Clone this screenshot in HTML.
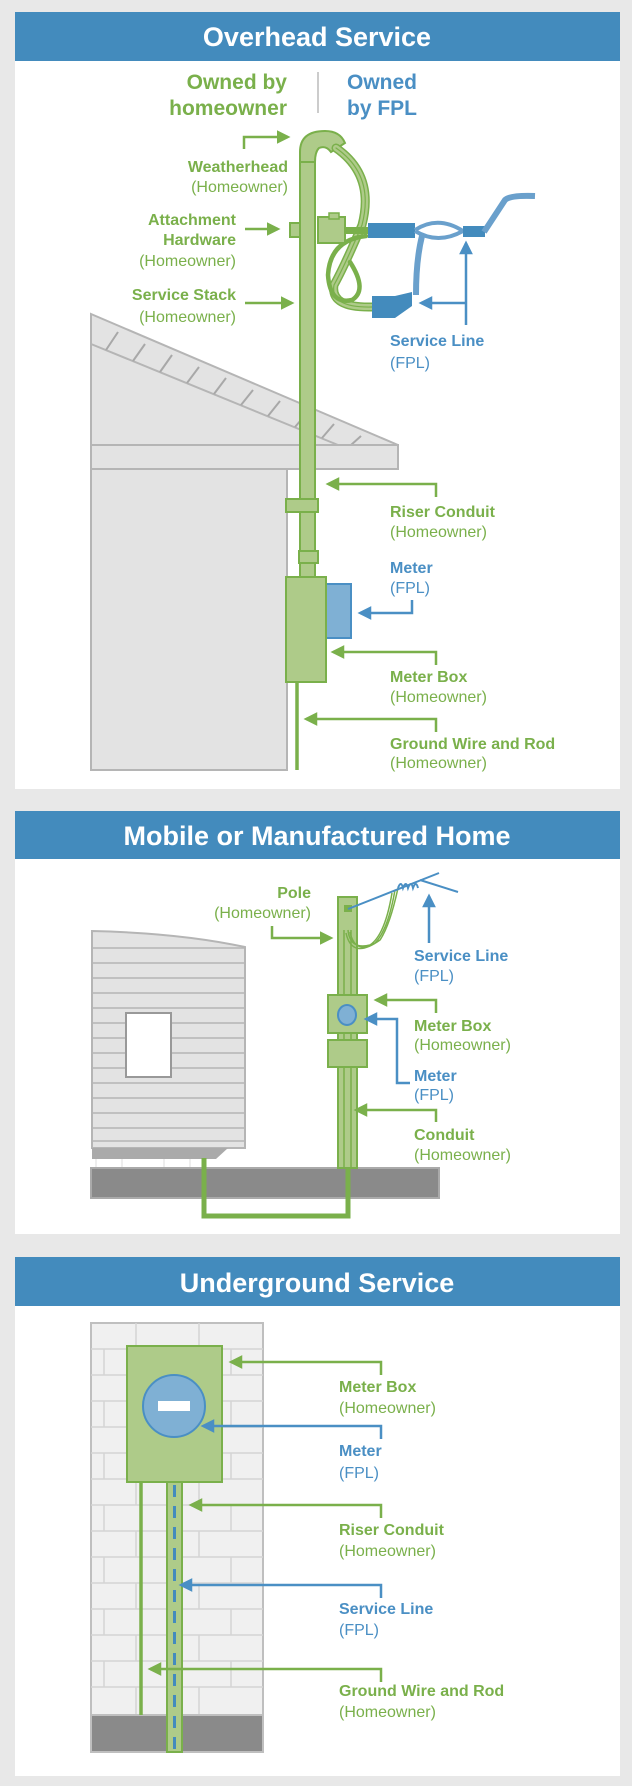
<!DOCTYPE html>
<html><head><meta charset="utf-8"><style>
html,body{margin:0;padding:0;background:#e8e8e8;}
svg{display:block;}
text{font-family:"Liberation Sans",Arial,sans-serif;}
.t{font-size:27px;font-weight:bold;fill:#fff;}
.gb{font-size:16px;font-weight:bold;fill:#7ab04b;}
.gr{font-size:16px;fill:#7ab04b;}
.bb{font-size:16px;font-weight:bold;fill:#4a8fc4;}
.br{font-size:16px;fill:#4a8fc4;}
.ga{stroke:#7ab04b;stroke-width:2.5;fill:none;}
.ba{stroke:#4a8fc4;stroke-width:2.5;fill:none;}
</style></head><body>
<svg width="632" height="1786" viewBox="0 0 632 1786" xmlns="http://www.w3.org/2000/svg">
<defs>
<marker id="mg" markerWidth="5.5" markerHeight="5.5" refX="4.5" refY="2.75" orient="auto" markerUnits="strokeWidth"><path d="M0,0 L5.5,2.75 L0,5.5 Z" fill="#7ab04b"/></marker>
<marker id="mb" markerWidth="5.5" markerHeight="5.5" refX="4.5" refY="2.75" orient="auto" markerUnits="strokeWidth"><path d="M0,0 L5.5,2.75 L0,5.5 Z" fill="#4a8fc4"/></marker>
</defs>
<rect width="632" height="1786" fill="#e8e8e8"/>

<!-- ===== Panel 1 ===== -->
<rect x="15" y="12" width="605" height="777" fill="#fff"/>
<rect x="15" y="12" width="605" height="49" fill="#438bbd"/>
<text class="t" x="317" y="46" text-anchor="middle">Overhead Service</text>
<text x="287" y="89" text-anchor="end" style="font-size:21px;font-weight:bold;fill:#7ab04b">Owned by</text>
<text x="287" y="115" text-anchor="end" style="font-size:21px;font-weight:bold;fill:#7ab04b">homeowner</text>
<line x1="318" y1="72" x2="318" y2="113" stroke="#bbb" stroke-width="1.5"/>
<text x="347" y="89" style="font-size:21px;font-weight:bold;fill:#4a8fc4">Owned</text>
<text x="347" y="115" style="font-size:21px;font-weight:bold;fill:#4a8fc4">by FPL</text>

<!-- roof -->
<polygon points="91,314 398,445 398,469 91,469" fill="#e3e3e3" stroke="#b5b5b5" stroke-width="2"/>
<line x1="91" y1="344" x2="338" y2="445" stroke="#b5b5b5" stroke-width="2"/>
<g stroke="#a8a8a8" stroke-width="2">
<line x1="118" y1="332" x2="106" y2="350"/><line x1="145" y1="344" x2="133" y2="361"/><line x1="172" y1="355" x2="160" y2="372"/>
<line x1="199" y1="367" x2="187" y2="383"/><line x1="226" y1="378" x2="214" y2="394"/><line x1="253" y1="390" x2="241" y2="405"/>
<line x1="280" y1="401" x2="268" y2="416"/><line x1="307" y1="413" x2="295" y2="427"/><line x1="334" y1="424" x2="322" y2="438"/>
<line x1="361" y1="436" x2="351" y2="445"/>
</g>
<rect x="91" y="445" width="307" height="24" fill="#e3e3e3" stroke="#b5b5b5" stroke-width="2"/>
<rect x="91" y="469" width="196" height="301" fill="#e3e3e3" stroke="#b5b5b5" stroke-width="2"/>

<!-- pipe -->
<rect x="300" y="155" width="15" height="422" fill="#aecb89" stroke="#7ab04b" stroke-width="2"/>
<path d="M300,162 L300,152 Q300,131 325,131 Q340,131 345,143 L331,152 Q326,145 319,148 Q315,152 315,162 Z" fill="#aecb89" stroke="#7ab04b" stroke-width="2"/>
<!-- wires -->
<g fill="none" stroke-linecap="round">
<path d="M336,148 Q375,175 362,225 Q345,265 334,285 Q330,308 372,307" stroke="#7ab04b" stroke-width="9"/>
<path d="M336,148 Q375,175 362,225 Q345,265 334,285 Q330,308 372,307" stroke="#aecb89" stroke-width="6"/>
<path d="M336,148 Q375,175 362,225 Q345,265 334,285 Q330,308 372,307" stroke="#7ab04b" stroke-width="1.2"/>
<path d="M366,236 Q330,240 328,275 Q330,305 352,300 Q368,290 350,262" stroke="#7ab04b" stroke-width="4.5"/>
</g>
<!-- attachment -->
<rect x="290" y="223" width="10" height="14" fill="#aecb89" stroke="#7ab04b" stroke-width="2"/>
<rect x="318" y="217" width="27" height="26" fill="#aecb89" stroke="#7ab04b" stroke-width="2"/>
<rect x="329" y="213" width="10" height="6" fill="#aecb89" stroke="#7ab04b" stroke-width="1.5"/>
<rect x="345" y="227" width="23" height="7" fill="#7ab04b"/>
<!-- blue service -->
<rect x="368" y="223" width="47" height="15" fill="#438bbd"/>
<path d="M415,230 Q438,215 463,231 M415,231 Q438,245 463,231" stroke="#6aa0cc" stroke-width="4" fill="none"/>
<rect x="463" y="226" width="22" height="11" fill="#438bbd"/>
<path d="M484,232 L505,200 Q510,195 535,196" stroke="#6aa0cc" stroke-width="6" fill="none"/>
<path d="M422,236 Q416,260 416,295" stroke="#6aa0cc" stroke-width="6" fill="none"/>
<polygon points="372,296 395,296 412,292 412,306 395,318 372,318" fill="#438bbd"/>
<!-- couplings / meter -->
<rect x="286" y="499" width="32" height="13" fill="#aecb89" stroke="#7ab04b" stroke-width="2"/>
<rect x="299" y="551" width="19" height="12" fill="#aecb89" stroke="#7ab04b" stroke-width="2"/>
<rect x="326" y="584" width="25" height="54" fill="#7fb0d4" stroke="#4a8fc4" stroke-width="2"/>
<rect x="286" y="577" width="40" height="105" fill="#aecb89" stroke="#7ab04b" stroke-width="2"/>
<line x1="297" y1="682" x2="297" y2="770" stroke="#7ab04b" stroke-width="3.5"/>
<!-- labels left -->
<path class="ga" d="M244,149 L244,137 L288,137" marker-end="url(#mg)"/>
<text class="gb" x="288" y="172" text-anchor="end">Weatherhead</text>
<text class="gr" x="288" y="192" text-anchor="end">(Homeowner)</text>
<text class="gb" x="236" y="225" text-anchor="end">Attachment</text>
<text class="gb" x="236" y="245" text-anchor="end">Hardware</text>
<text class="gr" x="236" y="266" text-anchor="end">(Homeowner)</text>
<path class="ga" d="M245,229 L278,229" marker-end="url(#mg)"/>
<text class="gb" x="236" y="300" text-anchor="end">Service Stack</text>
<text class="gr" x="236" y="322" text-anchor="end">(Homeowner)</text>
<path class="ga" d="M245,303 L292,303" marker-end="url(#mg)"/>
<path class="ba" d="M466,325 L466,243" marker-end="url(#mb)"/>
<path class="ba" d="M466,303 L421,303" marker-end="url(#mb)"/>
<text class="bb" x="390" y="346">Service Line</text>
<text class="br" x="390" y="368">(FPL)</text>
<!-- labels right -->
<path class="ga" d="M436,497 L436,484 L328,484" marker-end="url(#mg)"/>
<text class="gb" x="390" y="517">Riser Conduit</text>
<text class="gr" x="390" y="537">(Homeowner)</text>
<text class="bb" x="390" y="573">Meter</text>
<text class="br" x="390" y="593">(FPL)</text>
<path class="ba" d="M412,600 L412,613 L360,613" marker-end="url(#mb)"/>
<path class="ga" d="M436,665 L436,652 L333,652" marker-end="url(#mg)"/>
<text class="gb" x="390" y="682">Meter Box</text>
<text class="gr" x="390" y="702">(Homeowner)</text>
<path class="ga" d="M436,732 L436,719 L306,719" marker-end="url(#mg)"/>
<text class="gb" x="390" y="749">Ground Wire and Rod</text>
<text class="gr" x="390" y="768">(Homeowner)</text>

<!-- ===== Panel 2 ===== -->
<rect x="15" y="811" width="605" height="423" fill="#fff"/>
<rect x="15" y="811" width="605" height="48" fill="#438bbd"/>
<text class="t" x="317" y="845" text-anchor="middle">Mobile or Manufactured Home</text>
<!-- home -->
<path d="M92,931 Q180,933 245,947 L245,1148 L92,1148 Z" fill="#e3e3e3" stroke="#b5b5b5" stroke-width="2"/>
<g stroke="#b5b5b5" stroke-width="1.5">
<line x1="92" y1="948" x2="245" y2="948"/><line x1="92" y1="963" x2="245" y2="963"/><line x1="92" y1="978" x2="245" y2="978"/>
<line x1="92" y1="993" x2="245" y2="993"/><line x1="92" y1="1008" x2="245" y2="1008"/><line x1="92" y1="1023" x2="245" y2="1023"/>
<line x1="92" y1="1038" x2="245" y2="1038"/><line x1="92" y1="1053" x2="245" y2="1053"/><line x1="92" y1="1068" x2="245" y2="1068"/>
<line x1="92" y1="1083" x2="245" y2="1083"/><line x1="92" y1="1098" x2="245" y2="1098"/><line x1="92" y1="1113" x2="245" y2="1113"/>
<line x1="92" y1="1128" x2="245" y2="1128"/><line x1="92" y1="1141" x2="245" y2="1141"/>
</g>
<rect x="126" y="1013" width="45" height="64" fill="#fff" stroke="#999" stroke-width="2"/>
<polygon points="92,1148 228,1148 216,1159 92,1159" fill="#aaa"/>
<g stroke="#ddd" stroke-width="1"><line x1="96" y1="1159" x2="96" y2="1168"/><line x1="122" y1="1159" x2="122" y2="1168"/><line x1="164" y1="1159" x2="164" y2="1168"/><line x1="190" y1="1159" x2="190" y2="1168"/></g>
<rect x="91" y="1168" width="348" height="30" fill="#8a8a8a" stroke="#aaa" stroke-width="2"/>
<!-- pole -->
<rect x="338" y="897" width="19" height="271" fill="#aecb89" stroke="#7ab04b" stroke-width="2"/>
<line x1="344" y1="930" x2="344" y2="1168" stroke="#7ab04b" stroke-width="1.5"/>
<line x1="351" y1="930" x2="351" y2="1168" stroke="#7ab04b" stroke-width="1.5"/>
<rect x="344" y="905" width="8" height="7" fill="#7ab04b"/>
<path d="M348,930 Q350,950 370,945 Q385,935 392,893 M350,932 Q355,955 375,943 Q388,930 395,890 M346,933 Q352,960 380,940 Q390,925 398,888" stroke="#7ab04b" stroke-width="1.5" fill="none"/>
<path d="M348,909 L439,873 M420,880 L458,892" stroke="#4a8fc4" stroke-width="2" fill="none"/>
<path d="M398,888 q3,-8 5,0 q3,-8 5,0 q3,-8 5,0 q3,-8 5,0" stroke="#4a8fc4" stroke-width="2" fill="none"/>
<rect x="328" y="995" width="39" height="38" fill="#aecb89" stroke="#7ab04b" stroke-width="2"/>
<ellipse cx="347" cy="1015" rx="9" ry="10" fill="#7fb0d4" stroke="#4a8fc4" stroke-width="2"/>
<rect x="328" y="1040" width="39" height="27" fill="#aecb89" stroke="#7ab04b" stroke-width="2"/>
<path d="M204,1158 L204,1216 L348,1216 L348,1168" stroke="#7ab04b" stroke-width="5" fill="none"/>
<!-- labels -->
<text class="gb" x="311" y="898" text-anchor="end">Pole</text>
<text class="gr" x="311" y="918" text-anchor="end">(Homeowner)</text>
<path class="ga" d="M272,926 L272,938 L331,938" marker-end="url(#mg)"/>
<path class="ba" d="M429,943 L429,896" marker-end="url(#mb)"/>
<text class="bb" x="414" y="961">Service Line</text>
<text class="br" x="414" y="981">(FPL)</text>
<path class="ga" d="M436,1013 L436,1000 L376,1000" marker-end="url(#mg)"/>
<text class="gb" x="414" y="1031">Meter Box</text>
<text class="gr" x="414" y="1050">(Homeowner)</text>
<path class="ba" d="M410,1083 L397,1083 L397,1019 L366,1019" marker-end="url(#mb)"/>
<text class="bb" x="414" y="1081">Meter</text>
<text class="br" x="414" y="1100">(FPL)</text>
<path class="ga" d="M436,1122 L436,1110 L356,1110" marker-end="url(#mg)"/>
<text class="gb" x="414" y="1140">Conduit</text>
<text class="gr" x="414" y="1160">(Homeowner)</text>

<!-- ===== Panel 3 ===== -->
<rect x="15" y="1257" width="605" height="519" fill="#fff"/>
<rect x="15" y="1257" width="605" height="49" fill="#438bbd"/>
<text class="t" x="317" y="1292" text-anchor="middle">Underground Service</text>
<rect x="91" y="1323" width="172" height="429" fill="#f0f0f0" stroke="#bfbfbf" stroke-width="2"/>
<g stroke="#d4d4d4" stroke-width="1.5">
<line x1="91" y1="1349" x2="263" y2="1349"/><line x1="91" y1="1375" x2="263" y2="1375"/><line x1="91" y1="1401" x2="263" y2="1401"/>
<line x1="91" y1="1427" x2="263" y2="1427"/><line x1="91" y1="1453" x2="263" y2="1453"/><line x1="91" y1="1479" x2="263" y2="1479"/>
<line x1="91" y1="1505" x2="263" y2="1505"/><line x1="91" y1="1531" x2="263" y2="1531"/><line x1="91" y1="1557" x2="263" y2="1557"/>
<line x1="91" y1="1583" x2="263" y2="1583"/><line x1="91" y1="1609" x2="263" y2="1609"/><line x1="91" y1="1635" x2="263" y2="1635"/>
<line x1="91" y1="1661" x2="263" y2="1661"/><line x1="91" y1="1687" x2="263" y2="1687"/>
<line x1="136" y1="1323" x2="136" y2="1349"/><line x1="199" y1="1323" x2="199" y2="1349"/>
<line x1="104" y1="1349" x2="104" y2="1375"/><line x1="231" y1="1349" x2="231" y2="1375"/>
<line x1="136" y1="1375" x2="136" y2="1401"/><line x1="199" y1="1375" x2="199" y2="1401"/>
<line x1="104" y1="1401" x2="104" y2="1427"/><line x1="231" y1="1401" x2="231" y2="1427"/>
<line x1="136" y1="1427" x2="136" y2="1453"/><line x1="199" y1="1427" x2="199" y2="1453"/>
<line x1="104" y1="1453" x2="104" y2="1479"/><line x1="231" y1="1453" x2="231" y2="1479"/>
<line x1="136" y1="1479" x2="136" y2="1505"/><line x1="199" y1="1479" x2="199" y2="1505"/>
<line x1="104" y1="1505" x2="104" y2="1531"/><line x1="231" y1="1505" x2="231" y2="1531"/>
<line x1="136" y1="1531" x2="136" y2="1557"/><line x1="199" y1="1531" x2="199" y2="1557"/>
<line x1="104" y1="1557" x2="104" y2="1583"/><line x1="231" y1="1557" x2="231" y2="1583"/>
<line x1="136" y1="1583" x2="136" y2="1609"/><line x1="199" y1="1583" x2="199" y2="1609"/>
<line x1="104" y1="1609" x2="104" y2="1635"/><line x1="231" y1="1609" x2="231" y2="1635"/>
<line x1="136" y1="1635" x2="136" y2="1661"/><line x1="199" y1="1635" x2="199" y2="1661"/>
<line x1="104" y1="1661" x2="104" y2="1687"/><line x1="231" y1="1661" x2="231" y2="1687"/>
<line x1="136" y1="1687" x2="136" y2="1715"/><line x1="199" y1="1687" x2="199" y2="1715"/>
</g>
<rect x="91" y="1715" width="172" height="37" fill="#8a8a8a" stroke="#bfbfbf" stroke-width="2"/>
<rect x="127" y="1346" width="95" height="136" fill="#aecb89" stroke="#7ab04b" stroke-width="2"/>
<ellipse cx="174" cy="1406" rx="31" ry="31" fill="#7fb0d4" stroke="#4a8fc4" stroke-width="2"/>
<rect x="158" y="1401" width="32" height="10" fill="#fff"/>
<rect x="167" y="1482" width="15" height="270" fill="#aecb89" stroke="#7ab04b" stroke-width="2"/>
<line x1="174.5" y1="1485" x2="174.5" y2="1752" stroke="#438bbd" stroke-width="3" stroke-dasharray="12,9"/>
<line x1="141" y1="1482" x2="141" y2="1715" stroke="#7ab04b" stroke-width="3.5"/>
<!-- labels -->
<path class="ga" d="M381,1375 L381,1362 L231,1362" marker-end="url(#mg)"/>
<text class="gb" x="339" y="1392">Meter Box</text>
<text class="gr" x="339" y="1413">(Homeowner)</text>
<path class="ba" d="M381,1439 L381,1426 L203,1426" marker-end="url(#mb)"/>
<text class="bb" x="339" y="1456">Meter</text>
<text class="br" x="339" y="1478">(FPL)</text>
<path class="ga" d="M381,1518 L381,1505 L191,1505" marker-end="url(#mg)"/>
<text class="gb" x="339" y="1535">Riser Conduit</text>
<text class="gr" x="339" y="1556">(Homeowner)</text>
<path class="ba" d="M381,1598 L381,1585 L181,1585" marker-end="url(#mb)"/>
<text class="bb" x="339" y="1614">Service Line</text>
<text class="br" x="339" y="1635">(FPL)</text>
<path class="ga" d="M381,1682 L381,1669 L150,1669" marker-end="url(#mg)"/>
<text class="gb" x="339" y="1696">Ground Wire and Rod</text>
<text class="gr" x="339" y="1717">(Homeowner)</text>
</svg>
</body></html>
